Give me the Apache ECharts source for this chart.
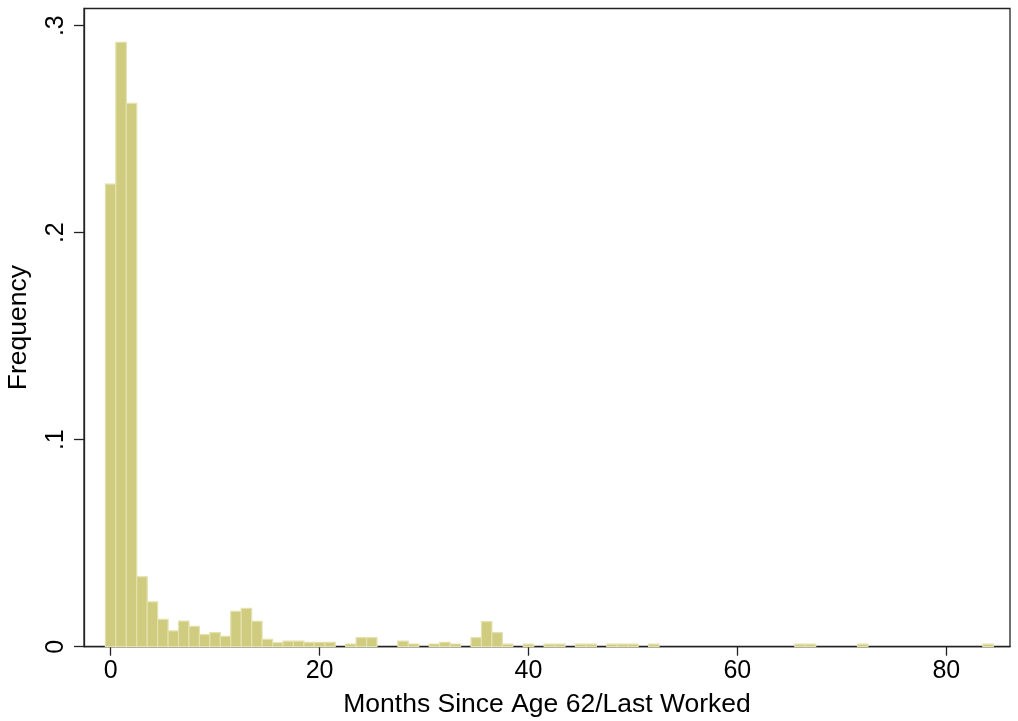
<!DOCTYPE html>
<html>
<head>
<meta charset="utf-8">
<script src="https://cdn.jsdelivr.net/npm/echarts@6/dist/echarts.min.js"></script>
<style>
html,body{margin:0;padding:0;background:#fff;}
#chart{width:1018px;height:721px;}
</style>
</head>
<body>
<div id="chart"></div>
<script>
// Histogram bins: month (bin centre) and frequency
const months = [];
for (let m = 0; m <= 84; m++) months.push(m);
const freq = [
  0.2235, 0.292, 0.2625, 0.0338, 0.0217, 0.0132, 0.0076, 0.0124, 0.0098, 0.0058,
  0.0068, 0.0050, 0.0171, 0.0185, 0.0123, 0.0035, 0.0019, 0.0027, 0.0027, 0.0021,
  0.0021, 0.0021, 0, 0.0013, 0.0044, 0.0044, 0, 0, 0.0027, 0.0013,
  0, 0.0013, 0.0021, 0.0013, 0, 0.0044, 0.0121, 0.0068, 0.0012, 0,
  0.0012, 0, 0.0012, 0.0012, 0, 0.0012, 0.0012, 0, 0.0012, 0.0012,
  0.0012, 0, 0.0012, 0, 0, 0, 0, 0, 0, 0,
  0, 0, 0, 0, 0, 0, 0.0012, 0.0012, 0, 0,
  0, 0, 0.0012, 0, 0, 0, 0, 0, 0, 0,
  0, 0, 0, 0, 0.0012
];
const xTicks = [0, 20, 40, 60, 80];
const yTicks = [0, 0.1, 0.2, 0.3];
const xTitle = 'Months Since Age 62/Last Worked';
const yTitle = 'Frequency';

const data = months.map((m, i) => [m, freq[i]]).filter(d => d[1] > 0);

const FONT = 'Liberation Sans, Arial, Helvetica, sans-serif';
const chart = echarts.init(document.getElementById('chart'), null, {renderer: 'canvas'});
chart.setOption({
  animation: false,
  backgroundColor: '#fff',
  grid: {left: 84, right: 8, top: 8.5, bottom: 74.3, containLabel: false, outerBoundsMode: 'none',
    show: true, borderColor: '#222', borderWidth: 1.3, backgroundColor: 'transparent'},
  xAxis: {
    type: 'value', min: -2.55, max: 86.1,
    name: xTitle, nameLocation: 'middle', nameGap: 44,
    nameTextStyle: {fontFamily: FONT, fontSize: 26.5, color: '#000'},
    axisLine: {show: true, onZero: false, lineStyle: {color: '#222', width: 1.3}},
    axisTick: {show: true, length: 9, customValues: xTicks, lineStyle: {color: '#222', width: 1.3}},
    axisLabel: {customValues: xTicks, fontFamily: FONT, fontSize: 25, color: '#000', margin: 12},
    splitLine: {show: false}
  },
  yAxis: {
    type: 'value', min: 0, max: 0.3083,
    name: yTitle, nameLocation: 'middle', nameGap: 52, nameRotate: 90,
    nameTextStyle: {fontFamily: FONT, fontSize: 26.5, color: '#000'},
    axisLine: {show: true, onZero: false, lineStyle: {color: '#222', width: 1.3}},
    axisTick: {show: true, length: 10, customValues: yTicks, lineStyle: {color: '#222', width: 1.3}},
    axisLabel: {customValues: yTicks, rotate: 90, fontFamily: FONT, fontSize: 25, color: '#000', margin: 15,
      formatter: v => v === 0 ? '0' : String(Math.round(v * 10) / 10).replace(/^0\./, '.')},
    splitLine: {show: false}
  },
  series: [{
    type: 'custom',
    data: data,
    renderItem: function (params, api) {
      const x = api.value(0), y = api.value(1);
      const p0 = api.coord([x - 0.5, y]);
      const p1 = api.coord([x + 0.5, 0]);
      return {
        type: 'rect',
        shape: {x: p0[0], y: p0[1], width: p1[0] - p0[0], height: p1[1] - p0[1]},
        style: {fill: '#cfcb7f', stroke: '#e4e1ad', lineWidth: 1.2}
      };
    }
  }]
});
</script>
</body>
</html>
